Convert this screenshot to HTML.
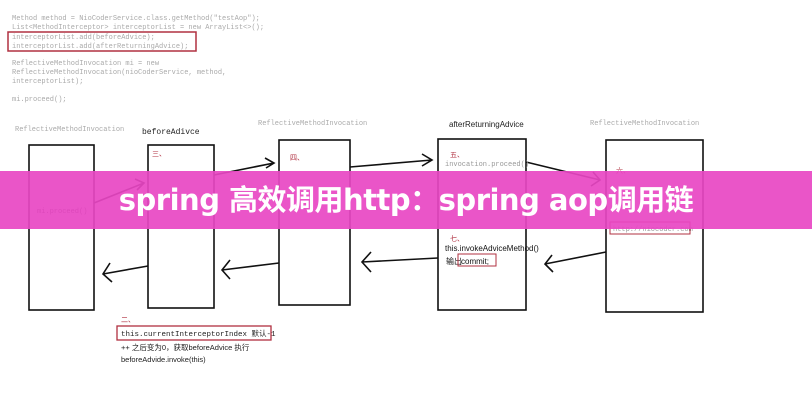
<!DOCTYPE html>
<html><head><meta charset="utf-8"><style>
body{margin:0;background:#fff;width:812px;height:400px;overflow:hidden;position:relative;font-family:"Liberation Sans","Noto Sans CJK SC",sans-serif}
svg{position:absolute;left:0;top:0}
.banner{position:absolute;left:0;top:171px;width:812px;height:58px;background:rgba(232,70,195,0.92);color:#fff;font-weight:bold;font-size:29px;text-align:center;line-height:58px;font-family:"DejaVu Sans","Noto Sans CJK SC",sans-serif;letter-spacing:-0.5px}
</style></head><body>
<svg width="812" height="400" font-family="Liberation Mono, monospace">
<g font-size="7" fill="#aaa">
<text x="12" y="20">Method method = NioCoderService.class.getMethod("testAop");</text>
<text x="12" y="29">List&lt;MethodInterceptor&gt; interceptorList = new ArrayList&lt;&gt;();</text>
<text x="12" y="39">interceptorList.add(beforeAdvice);</text>
<text x="12" y="48">interceptorList.add(afterReturningAdvice);</text>
<text x="12" y="65">ReflectiveMethodInvocation mi = new</text>
<text x="12" y="74">ReflectiveMethodInvocation(nioCoderService, method,</text>
<text x="12" y="83">interceptorList);</text>
<text x="12" y="101">mi.proceed();</text>
<text x="15" y="131">ReflectiveMethodInvocation</text>
<text x="258" y="125">ReflectiveMethodInvocation</text>
<text x="590" y="125">ReflectiveMethodInvocation</text>
</g>
<rect x="8" y="32" width="188" height="19" fill="none" stroke="#b03040" stroke-width="1.5"/>
<text x="142" y="134" font-size="8" fill="#222">beforeAdivce</text>
<text x="449" y="127" font-size="8" fill="#222" font-family="Liberation Sans">afterReturningAdvice</text>
<g fill="none" stroke="#111" stroke-width="1.6">
<rect x="29" y="145" width="65" height="165"/>
<rect x="148" y="145" width="66" height="163"/>
<rect x="279" y="140" width="71" height="165"/>
<rect x="438" y="139" width="88" height="171"/>
<rect x="606" y="140" width="97" height="172"/>
<path d="M94 203 L144 183 M135 179 L144 183 L137 190"/>
<path d="M214 175 L274 163 M265 158 L274 163 L266 168"/>
<path d="M350 167 L432 160 M422 154 L432 160 L422 166"/>
<path d="M526 162 L600 180 M593 172 L600 180 L591 186"/>
<path d="M606 252 L545 264 M552 255 L545 264 L553 272"/>
<path d="M438 258 L362 262 M371 252 L362 262 L371 272"/>
<path d="M279 263 L222 270 M230 260 L222 270 L230 279"/>
<path d="M148 266 L103 274 M110 263 L103 274 L112 282"/>
</g>
<text x="152" y="156" font-size="7" fill="#b03040">三、</text>
<text x="290" y="160" font-size="7" fill="#b03040">四、</text>
<text x="450" y="157" font-size="7" fill="#b03040">五、</text>
<text x="616" y="173" font-size="7" fill="#b03040">六、</text>
<text x="37" y="213" font-size="7" fill="#555">mi.proceed()</text>
<text x="445" y="166" font-size="7" fill="#999">invocation.proceed()</text>
<rect x="610" y="222" width="80" height="12" fill="none" stroke="#b03040"/>
<text x="613" y="231" font-size="7" fill="#999">http://niocoder.com</text>
<text x="450" y="241" font-size="7" fill="#b03040">七、</text>
<text x="445" y="251" font-size="8" fill="#111" font-family="Liberation Sans">this.invokeAdviceMethod()</text>
<text x="446" y="264" font-size="8" fill="#111" font-family="Liberation Sans">输出</text>
<rect x="458" y="254" width="38" height="12" fill="none" stroke="#b03040"/>
<text x="461" y="264" font-size="8" fill="#111" font-family="Liberation Sans">commit;</text>
<text x="121" y="322" font-size="7" fill="#b03040">二、</text>
<rect x="117" y="326" width="154" height="14" fill="none" stroke="#b03040" stroke-width="1.3"/>
<text x="121" y="336" font-size="7.5" fill="#222">this.currentInterceptorIndex 默认-1</text>
<text x="121" y="350" font-size="7.5" fill="#222" font-family="Liberation Sans">++ 之后变为0，获取beforeAdvice 执行</text>
<text x="121" y="362" font-size="7.5" fill="#222" font-family="Liberation Sans">beforeAdvide.invoke(this)</text>
</svg>
<div class="banner">spring 高效调用http：spring aop调用链</div>
</body></html>
